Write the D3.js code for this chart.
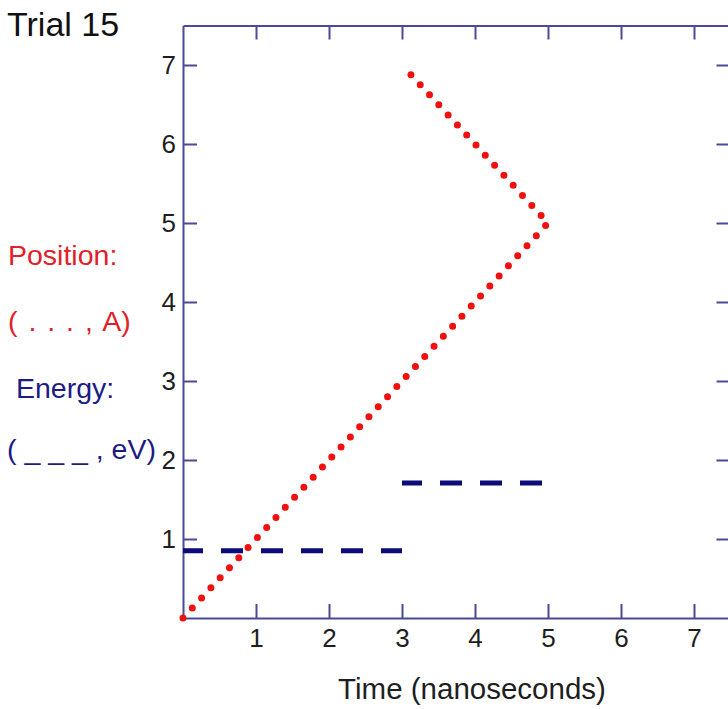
<!DOCTYPE html>
<html>
<head>
<meta charset="utf-8">
<script src="https://cdn.jsdelivr.net/npm/d3@7"></script>
<style>
  html, body { margin: 0; padding: 0; background: #fff; }
  svg { display: block; font-family: "Liberation Sans", Arial, sans-serif; }
</style>
</head>
<body>
<svg id="chart" width="728" height="709"></svg>
<script>
// ---- data ----
const xTicks = [1, 2, 3, 4, 5, 6, 7];
const yTicks = [1, 2, 3, 4, 5, 6, 7];
const positionTime = [0, 5, 3];
const positionValue = [0, 5, 7];
const energyStart = [0, 3];
const energyEnd = [3, 5];
const energyValue = [0.85, 1.71];
const xDomain = [0, 7.5];
const yDomain = [0, 7.5];

(function () {
// ---- layout ----
const svg = d3.select("#chart");
const pLeft = 183, pRight = 730.5, pTop = 25.5, pBottom = 618;
const x = d3.scaleLinear().domain(xDomain).range([pLeft, pRight]);
const y = d3.scaleLinear().domain(yDomain).range([pBottom, pTop]);
const axisColor = "#4a4a98";
const tickLen = 14;

function styleAxis(g) {
  g.select(".domain").attr("stroke", axisColor).attr("stroke-width", 2);
  g.selectAll(".tick line").attr("stroke", axisColor).attr("stroke-width", 2);
  g.selectAll(".tick text").attr("fill", "#1e1e1e").attr("font-size", 26)
    .attr("font-family", "Liberation Sans, Arial, sans-serif");
}

// bottom axis
svg.append("g").attr("transform", `translate(0,${pBottom})`)
  .call(d3.axisBottom(x).tickValues(xTicks).tickFormat(d3.format("d"))
    .tickSizeInner(-tickLen).tickSizeOuter(0).tickPadding(11))
  .call(styleAxis);
// top axis (no labels)
svg.append("g").attr("transform", `translate(0,${pTop})`)
  .call(d3.axisTop(x).tickValues(xTicks).tickFormat("")
    .tickSizeInner(-tickLen).tickSizeOuter(0))
  .call(styleAxis);
// left axis
svg.append("g").attr("transform", `translate(${pLeft},0)`)
  .call(d3.axisLeft(y).tickValues(yTicks).tickFormat(d3.format("d"))
    .tickSizeInner(-tickLen).tickSizeOuter(0).tickPadding(7))
  .call(styleAxis);
// right axis (no labels)
svg.append("g").attr("transform", `translate(${pRight},0)`)
  .call(d3.axisRight(y).tickValues(yTicks).tickFormat("")
    .tickSizeInner(-tickLen).tickSizeOuter(0))
  .call(styleAxis);

// ---- energy dashed lines ----
svg.append("g").selectAll("line")
  .data(energyValue.map((v, i) => ({ x0: energyStart[i], x1: energyEnd[i], v })))
  .join("line")
  .attr("x1", d => x(d.x0)).attr("x2", d => x(d.x1))
  .attr("y1", d => y(d.v)).attr("y2", d => y(d.v))
  .attr("stroke", "#0b0b7a").attr("stroke-width", 5)
  .attr("stroke-dasharray", "22 18").attr("stroke-dashoffset", 2);

// ---- position dotted line ----
const posData = positionTime.map((t, i) => [t, positionValue[i]]);
const line = d3.line().x(d => x(d[0])).y(d => y(d[1]));
svg.append("path")
  .attr("d", line(posData))
  .attr("fill", "none")
  .attr("stroke", "#f01010")
  .attr("stroke-width", 7)
  .attr("stroke-linecap", "round")
  .attr("stroke-linejoin", "round")
  .attr("stroke-dasharray", "0 13.7");

// ---- texts ----
svg.append("text").attr("x", 7).attr("y", 36)
  .attr("font-size", 34).attr("fill", "#111").text("Trial 15");

svg.append("text").attr("x", 472).attr("y", 699)
  .attr("text-anchor", "middle").attr("font-size", 29.5).attr("fill", "#1e1e1e")
  .text("Time (nanoseconds)");

svg.append("text").attr("x", 8).attr("y", 265)
  .attr("font-size", 28.5).attr("fill", "#e0202a").text("Position:");
svg.append("text").attr("x", 8).attr("y", 331)
  .attr("font-size", 28.5).attr("fill", "#e0202a")
  .attr("word-spacing", 3).text("( . . . , A)");
svg.append("text").attr("x", 16).attr("y", 398)
  .attr("font-size", 28.5).attr("fill", "#1c1c82").text("Energy:");
svg.append("text").attr("x", 7).attr("y", 459)
  .attr("font-size", 28.5).attr("fill", "#1c1c82").text("( _ _ _ , eV)");
})();
</script>
</body>
</html>
